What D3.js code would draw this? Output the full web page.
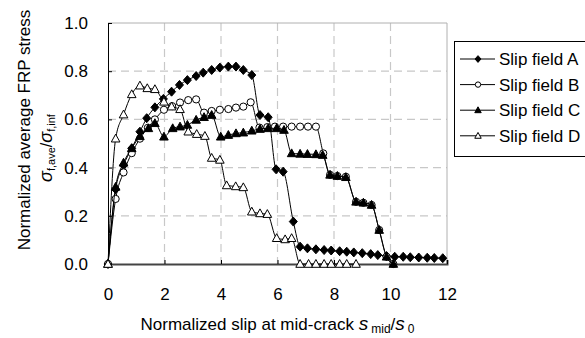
<!DOCTYPE html>
<html lang="en">
<head>
    <meta charset="UTF-8">
    <title>Normalized average FRP stress vs slip</title>
    <script src="https://d3js.org/d3.v7.min.js"></script>
    <style>
        body { margin: 0; background: #fff; font-family: "Liberation Sans", Arial, sans-serif; }
        svg { display: block; }
        .grid line { stroke: #c8c8c8; stroke-width: 1.2; stroke-dasharray: 8,5; }
        .series { fill: none; stroke: #000; stroke-width: 1; }
        text { fill: #000; }
    </style>
</head>
<body>
    <svg width="585" height="338"></svg>

    <script>
        // podaci ocitani sa slike
        const slipA = [0, 0.27, 0.55, 0.84, 1.13, 1.37, 1.66, 1.96, 2.25, 2.53, 2.81, 3.12, 3.37, 3.67, 3.96, 4.26, 4.53, 4.79, 5.09, 5.38, 5.67, 5.95, 6.2, 6.56, 6.8, 7.06, 7.36, 7.65, 7.9, 8.2, 8.45, 8.7, 9.0, 9.3, 9.55, 9.86, 10.15, 10.45, 10.7, 11.0, 11.3, 11.55, 11.85];
        const stressA = [0, 0.31, 0.41, 0.48, 0.549, 0.605, 0.65, 0.685, 0.715, 0.743, 0.763, 0.78, 0.794, 0.805, 0.815, 0.819, 0.819, 0.805, 0.784, 0.618, 0.609, 0.393, 0.383, 0.176, 0.072, 0.065, 0.061, 0.058, 0.056, 0.053, 0.051, 0.048, 0.045, 0.041, 0.037, 0.033, 0.03, 0.03, 0.028, 0.027, 0.026, 0.025, 0.024];

        const slipB = [0, 0.27, 0.55, 0.84, 1.13, 1.41, 1.66, 1.98, 2.27, 2.55, 2.84, 3.12, 3.4, 3.67, 3.96, 4.26, 4.53, 4.79, 5.05, 5.36, 5.64, 5.91, 6.2, 6.5, 6.8, 7.08, 7.36, 7.62, 7.86, 8.12, 8.42, 8.78, 9.04, 9.33, 9.6, 9.86, 10.1];
        const stressB = [0, 0.27, 0.38, 0.46, 0.52, 0.565, 0.6, 0.64, 0.655, 0.67, 0.68, 0.683, 0.628, 0.635, 0.64, 0.643, 0.649, 0.653, 0.671, 0.566, 0.568, 0.57, 0.57, 0.57, 0.57, 0.57, 0.57, 0.459, 0.37, 0.365, 0.362, 0.258, 0.254, 0.245, 0.141, 0.03, 0];

        const slipC = [0, 0.27, 0.55, 0.84, 1.13, 1.43, 1.66, 1.98, 2.29, 2.55, 2.81, 3.12, 3.4, 3.67, 3.99, 4.26, 4.53, 4.79, 5.09, 5.38, 5.67, 5.97, 6.23, 6.5, 6.8, 7.06, 7.36, 7.6, 7.86, 8.12, 8.42, 8.78, 9.04, 9.33, 9.6, 9.86, 10.1];
        const stressC = [0, 0.32, 0.42, 0.48, 0.53, 0.563, 0.584, 0.528, 0.563, 0.57, 0.577, 0.598, 0.609, 0.618, 0.528, 0.535, 0.542, 0.545, 0.553, 0.56, 0.563, 0.563, 0.556, 0.459, 0.457, 0.456, 0.455, 0.452, 0.37, 0.365, 0.36, 0.258, 0.254, 0.245, 0.141, 0.03, 0];

        const slipD = [0, 0.27, 0.55, 0.84, 1.13, 1.39, 1.66, 1.98, 2.25, 2.55, 2.84, 3.14, 3.43, 3.67, 3.96, 4.2, 4.52, 4.79, 5.09, 5.38, 5.64, 5.97, 6.27, 6.5, 6.8, 7.1, 7.36, 7.65, 7.9, 8.2, 8.45, 8.78];
        const stressD = [0, 0.52, 0.62, 0.704, 0.74, 0.729, 0.725, 0.673, 0.653, 0.642, 0.549, 0.539, 0.531, 0.44, 0.432, 0.326, 0.322, 0.318, 0.217, 0.21, 0.207, 0.107, 0.102, 0.107, 0, 0, 0, 0, 0, 0, 0, 0];

        const seriesNames = ["Slip field A", "Slip field B", "Slip field C", "Slip field D"];
        const xTicks = [0, 2, 4, 6, 8, 10, 12];
        const yTicks = [0, 0.2, 0.4, 0.6, 0.8, 1.0];

        const series = [
            { name: seriesNames[0], slip: slipA, stress: stressA, shape: "diamond", fill: "#000" },
            { name: seriesNames[1], slip: slipB, stress: stressB, shape: "circle", fill: "#fff" },
            { name: seriesNames[2], slip: slipC, stress: stressC, shape: "triangle", fill: "#000" },
            { name: seriesNames[3], slip: slipD, stress: stressD, shape: "triangle", fill: "#fff" }
        ];

        const plotLeft = 108, plotRight = 447, plotTop = 23, plotBottom = 264;
        const svg = d3.select("svg");

        const x = d3.scaleLinear().domain([0, 12]).range([plotLeft, plotRight]);
        const y = d3.scaleLinear().domain([0, 1]).range([plotBottom, plotTop]);

        // oblici markera
        function markerPath(shape, s) {
            if (shape === "diamond") return `M0,${-4.5*s}L${4*s},0L0,${4.5*s}L${-4*s},0Z`;
            if (shape === "triangle") return `M0,${-4.5*s}L${4.3*s},${3.3*s}L${-4.3*s},${3.3*s}Z`;
            return d3.arc()({ innerRadius: 0, outerRadius: 3.6*s, startAngle: 0, endAngle: 2*Math.PI });
        }

        // mreza
        const grid = svg.append("g").attr("class", "grid");
        grid.selectAll(".h").data(yTicks.slice(1, -1)).enter().append("line")
            .attr("x1", plotLeft).attr("x2", plotRight)
            .attr("y1", d => y(d)).attr("y2", d => y(d));
        grid.selectAll(".v").data(xTicks.slice(1, -1)).enter().append("line")
            .attr("x1", d => x(d)).attr("x2", d => x(d))
            .attr("y1", plotTop).attr("y2", plotBottom);

        // okvir
        svg.append("path").attr("d", `M${plotLeft},${plotTop}H${plotRight}V${plotBottom}`)
            .attr("fill", "none").attr("stroke", "#b0b0b0").attr("stroke-width", 1);

        // osi
        const yAxis = d3.axisLeft(y).tickValues(yTicks).tickSize(-4).tickPadding(20)
            .tickFormat(d3.format(".1f"));
        const gy = svg.append("g").attr("transform", `translate(${plotLeft},0)`).call(yAxis);
        gy.select(".domain").attr("stroke", "#000");
        gy.selectAll("text").attr("font-size", 17).attr("font-family", "Liberation Sans, Arial, sans-serif");

        const xAxis = d3.axisBottom(x).tickValues(xTicks).tickSize(-4).tickPadding(24)
            .tickFormat(d3.format("d"));
        const gx = svg.append("g").attr("transform", `translate(0,${plotBottom})`).call(xAxis);
        gx.select(".domain").attr("stroke", "#444").attr("stroke-width", 2);
        gx.selectAll("text").attr("font-size", 17).attr("font-family", "Liberation Sans, Arial, sans-serif");

        // serije
        const line = d3.line().curve(d3.curveMonotoneX).x(d => x(d[0])).y(d => y(d[1]));
        series.forEach(s => {
            const pts = s.slip.map((v, i) => [v, s.stress[i]]);
            svg.append("path").attr("class", "series").attr("d", line(pts));
            svg.append("g").selectAll("path").data(pts).enter().append("path")
                .attr("transform", d => `translate(${x(d[0])},${y(d[1])})`)
                .attr("d", markerPath(s.shape, 1))
                .attr("fill", s.fill).attr("stroke", "#000").attr("stroke-width", 1);
        });

        // legenda
        const lg = svg.append("g");
        lg.append("rect").attr("x", 454.5).attr("y", 41.5).attr("width", 150).attr("height", 115)
            .attr("fill", "#fff").attr("stroke", "#000");
        series.forEach((s, i) => {
            const ly = 59 + i * 25.6;
            lg.append("line").attr("x1", 460).attr("x2", 495).attr("y1", ly).attr("y2", ly)
                .attr("stroke", "#000");
            lg.append("path").attr("transform", `translate(478,${ly})`)
                .attr("d", markerPath(s.shape, 0.75))
                .attr("fill", s.fill).attr("stroke", "#000");
            lg.append("text").attr("x", 499).attr("y", ly + 6)
                .attr("font-size", 17).text(s.name);
        });

        // naslovi osi
        svg.append("text")
            .attr("transform", "translate(30,130) rotate(-90)")
            .attr("text-anchor", "middle").attr("font-size", 17)
            .text("Normalized average FRP stress");

        const yl2 = svg.append("text")
            .attr("transform", "translate(52,148) rotate(-90)")
            .attr("text-anchor", "middle").attr("font-size", 16);
        yl2.append("tspan").attr("font-style", "italic").attr("font-size", 18).text("σ");
        yl2.append("tspan").attr("font-size", 11).attr("dy", 3).text("f,ave");
        yl2.append("tspan").attr("dy", -3).text("/");
        yl2.append("tspan").attr("font-style", "italic").attr("font-size", 18).text("σ");
        yl2.append("tspan").attr("font-size", 11).attr("dy", 3).text("f,inf");

        const xl = svg.append("text")
            .attr("x", (plotLeft + plotRight) / 2).attr("y", 330)
            .attr("text-anchor", "middle").attr("font-size", 17);
        xl.append("tspan").text("Normalized slip at mid-crack ");
        xl.append("tspan").attr("font-style", "italic").attr("font-size", 19).text("s");
        xl.append("tspan").attr("font-size", 12).attr("dx", 3).attr("dy", 3).text("mid");
        xl.append("tspan").attr("dy", -3).text("/");
        xl.append("tspan").attr("font-style", "italic").attr("font-size", 19).text("s");
        xl.append("tspan").attr("font-size", 12).attr("dx", 3).attr("dy", 3).text("0");
    </script>
</body>
</html>
